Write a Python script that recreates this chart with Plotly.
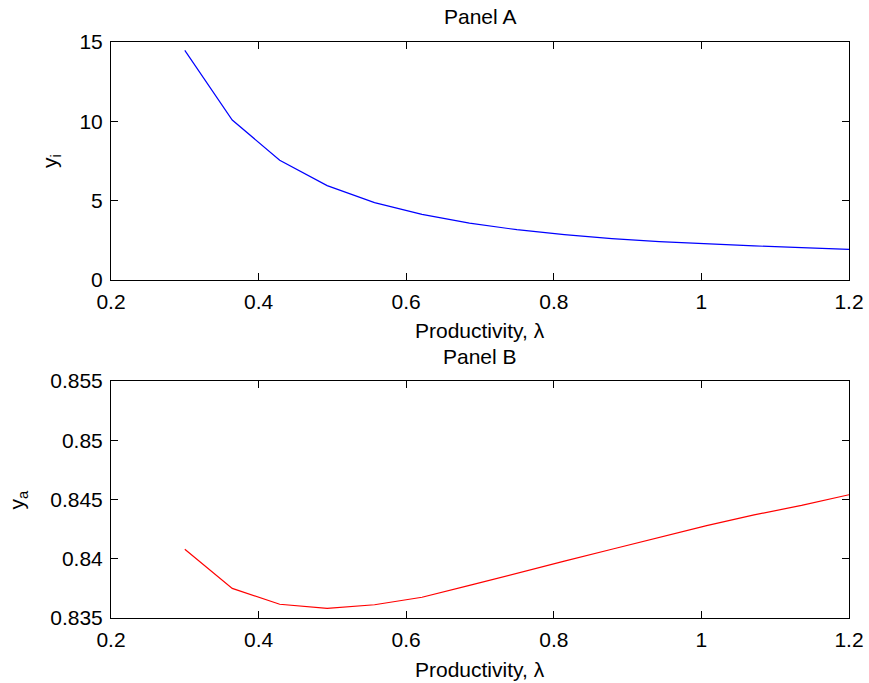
import plotly.graph_objects as go
from plotly.subplots import make_subplots

# Productivity grid (15 points from 0.3 to 1.2)
productivity = [0.3, 0.3643, 0.4286, 0.4929, 0.5571, 0.6214, 0.6857, 0.75,
                0.8143, 0.8786, 0.9429, 1.0071, 1.0714, 1.1357, 1.2]

# Panel A: y_i
y_i = [14.47, 10.08, 7.55, 5.95, 4.88, 4.14, 3.58, 3.17,
       2.86, 2.61, 2.42, 2.27, 2.15, 2.04, 1.93]

# Panel B: y_a
y_a = [0.8408, 0.8375, 0.83616, 0.83582, 0.83612, 0.83675, 0.83775, 0.8388,
       0.8398, 0.8408, 0.8418, 0.8428, 0.8437, 0.8445, 0.8454]

x_ticks = [0.2, 0.4, 0.6, 0.8, 1.0, 1.2]
x_tick_text = ["0.2", "0.4", "0.6", "0.8", "1", "1.2"]
yi_ticks = [0, 5, 10, 15]
ya_ticks = [0.835, 0.84, 0.845, 0.85, 0.855]
ya_tick_text = ["0.835", "0.84", "0.845", "0.85", "0.855"]

FONT = "Liberation Sans, Arial, Helvetica, sans-serif"
FS = 21

fig = make_subplots(rows=2, cols=1, vertical_spacing=0.0)

fig.add_trace(go.Scatter(x=productivity, y=y_i, mode="lines",
                         line=dict(color="#0000ff", width=1.2),
                         showlegend=False), row=1, col=1)
fig.add_trace(go.Scatter(x=productivity, y=y_a, mode="lines",
                         line=dict(color="#ff0000", width=1.2),
                         showlegend=False), row=2, col=1)

axis_common = dict(
    showline=True, linecolor="black", linewidth=1, mirror="ticks",
    ticks="inside", ticklen=7, tickcolor="black", tickwidth=1,
    showgrid=False, zeroline=False, automargin=False,
    tickfont=dict(family=FONT, size=FS, color="black"),
)

fig.update_xaxes(range=[0.2, 1.2], tickvals=x_ticks, ticktext=x_tick_text,
                 showticklabels=True, ticklabelstandoff=3, **axis_common)
fig.update_yaxes(ticklabelstandoff=3, **axis_common)
fig.update_yaxes(range=[0, 15], tickvals=yi_ticks, row=1, col=1)
fig.update_yaxes(range=[0.835, 0.855], tickvals=ya_ticks, ticktext=ya_tick_text,
                 row=2, col=1)

fig.update_layout(
    width=869, height=683,
    margin=dict(l=111, r=20, t=42, b=65),
    paper_bgcolor="white", plot_bgcolor="white",
    font=dict(family=FONT, size=FS, color="black"),
    yaxis=dict(domain=[0.5868, 1.0]),
    yaxis2=dict(domain=[0.0, 0.4115]),
)

def add_text(text, xref, yref, x, y, xshift=0, yshift=0, angle=0):
    fig.add_annotation(text=text, xref=xref, yref=yref, x=x, y=y,
                       xshift=xshift, yshift=yshift, textangle=angle,
                       showarrow=False, font=dict(family=FONT, size=FS, color="black"),
                       xanchor="center", yanchor="middle")

# Titles and axis labels
add_text("Panel A", "x domain", "y domain", 0.5, 1, yshift=26)
add_text("Productivity, λ", "x domain", "y domain", 0.5, 0, yshift=-50)
add_text("y<sub>i</sub>", "x domain", "y domain", 0, 0.5, xshift=-60, angle=-90)

add_text("Panel B", "x2 domain", "y2 domain", 0.5, 1, yshift=24)
add_text("Productivity, λ", "x2 domain", "y2 domain", 0.5, 0, yshift=-51)
add_text("y<sub>a</sub>", "x2 domain", "y2 domain", 0, 0.5, xshift=-93, angle=-90)

fig.write_html("out.html")
